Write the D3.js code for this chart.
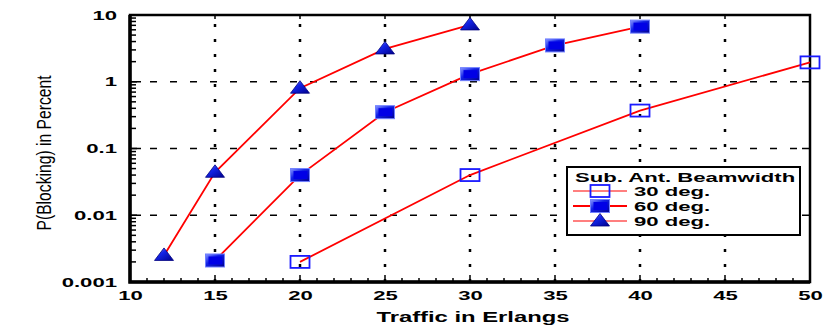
<!DOCTYPE html>
<html>
<head>
<meta charset="utf-8">
<script src="https://cdn.jsdelivr.net/npm/d3@7"></script>
<style>
body { margin: 0; background: #fff; }
svg { display: block; font-family: "Liberation Sans", Arial, sans-serif; }
</style>
</head>
<body>
<svg width="831" height="328"></svg>
<script>
var WIDTH = 831;
var HEIGHT = 328;

// traffic in Erlangs vs blocking probability (%)
var x90 = [12, 15, 20, 25, 30];
var y90 = [0.0025, 0.044, 0.8, 3.1, 7.1];
var x60 = [15, 20, 25, 30, 35, 40];
var y60 = [0.0021, 0.04, 0.35, 1.3, 3.5, 6.7];
var x30 = [20, 30, 40, 50];
var y30 = [0.002, 0.04, 0.37, 1.95];

var xTicks = [10, 15, 20, 25, 30, 35, 40, 45, 50];
var yTicks = [0.001, 0.01, 0.1, 1, 10];
var yTickLabels = ['0.001', '0.01', '0.1', '1', '10'];
var legendLabels = ['30 deg.', '60 deg.', '90 deg.'];

var pL = 130, pR = 810, pT = 15, pB = 282;
var STRETCH = 1.7;

var svg = d3.select('svg');

// the original picture is wide, so text is stretched sideways
var stretch = function(sel, k){
    sel.each(function(){
        var w = this.getComputedTextLength();
        d3.select(this).attr('textLength', w * k).attr('lengthAdjust', 'spacingAndGlyphs');
    });
};

var defs = svg.append('defs');
var grad = defs.append('linearGradient').attr('id', 'blueg')
    .attr('x1', 0).attr('y1', 0).attr('x2', 1).attr('y2', 1);
grad.append('stop').attr('offset', '0%').attr('stop-color', '#8a98ff');
grad.append('stop').attr('offset', '40%').attr('stop-color', '#1424e8');
grad.append('stop').attr('offset', '100%').attr('stop-color', '#00008c');

var xScale = d3.scaleLinear().domain([10, 50]).range([pL, pR]);
var yScale = d3.scaleLog().domain([0.001, 10]).range([pB, pT]);

// grid
var grid = svg.append('g');
grid.selectAll('line.v')
    .data(xTicks.slice(1, -1))
    .enter().append('line')
    .attr('x1', function(d){ return xScale(d); })
    .attr('x2', function(d){ return xScale(d); })
    .attr('y1', pT + 9).attr('y2', pB)
    .attr('stroke', '#000').attr('stroke-width', 2.5)
    .attr('stroke-dasharray', '3,12');
grid.selectAll('line.h')
    .data(yTicks.slice(1, -1))
    .enter().append('line')
    .attr('x1', pL).attr('x2', pR)
    .attr('y1', function(d){ return yScale(d); })
    .attr('y2', function(d){ return yScale(d); })
    .attr('stroke', '#000').attr('stroke-width', 1.5)
    .attr('stroke-dasharray', '7,13');

// minor ticks
var minorY = [];
for (var e = -3; e < 1; e++) {
    for (var m = 2; m < 10; m++) minorY.push(m * Math.pow(10, e));
}
var minorX = d3.range(10, 51);

var bottomAxis = d3.axisBottom(xScale).tickValues(xTicks).tickSize(0).tickPadding(9)
    .tickFormat(d3.format('d'));
svg.append('g')
    .attr('transform', 'translate(0,' + pB + ')')
    .call(bottomAxis)
    .call(function(g){ g.select('.domain').remove(); })
    .selectAll('text')
    .attr('font-size', 13).attr('font-weight', 'bold').attr('fill', '#000')
    .attr('font-family', '"Liberation Sans", Arial, sans-serif')
    .call(stretch, STRETCH);

var leftAxis = d3.axisLeft(yScale).tickValues(yTicks).tickSize(0).tickPadding(13)
    .tickFormat(function(d, i){ return yTickLabels[i]; });
svg.append('g')
    .attr('transform', 'translate(' + pL + ',0)')
    .call(leftAxis)
    .call(function(g){ g.select('.domain').remove(); })
    .selectAll('text')
    .attr('font-size', 13).attr('font-weight', 'bold').attr('fill', '#000')
    .attr('font-family', '"Liberation Sans", Arial, sans-serif')
    .call(stretch, STRETCH);

var ticks = svg.append('g').attr('stroke', '#000').attr('stroke-width', 1.5);
ticks.selectAll('line.xt')
    .data(minorX)
    .enter().append('line')
    .attr('x1', function(d){ return xScale(d); })
    .attr('x2', function(d){ return xScale(d); })
    .attr('y1', pB)
    .attr('y2', function(d){ return pB - (d % 5 === 0 ? 7 : 4); });
ticks.selectAll('line.xt2')
    .data(xTicks)
    .enter().append('line')
    .attr('x1', function(d){ return xScale(d); })
    .attr('x2', function(d){ return xScale(d); })
    .attr('y1', pT)
    .attr('y2', pT + 4);
ticks.selectAll('line.yt')
    .data(minorY)
    .enter().append('line')
    .attr('x1', pL).attr('x2', pL + 6)
    .attr('y1', function(d){ return yScale(d); })
    .attr('y2', function(d){ return yScale(d); });
ticks.selectAll('line.yt1')
    .data(yTicks)
    .enter().append('line')
    .attr('x1', pL).attr('x2', pL + 11)
    .attr('y1', function(d){ return yScale(d); })
    .attr('y2', function(d){ return yScale(d); });
ticks.selectAll('line.yt2')
    .data(yTicks)
    .enter().append('line')
    .attr('x1', pR).attr('x2', pR - 8)
    .attr('y1', function(d){ return yScale(d); })
    .attr('y2', function(d){ return yScale(d); });

// frame
svg.append('rect')
    .attr('x', pL).attr('y', pT)
    .attr('width', pR - pL).attr('height', pB - pT)
    .attr('fill', 'none').attr('stroke', '#000').attr('stroke-width', 2.5);
svg.append('path')
    .attr('d', 'M' + pL + ',' + pT + 'V' + pB + 'H' + pR)
    .attr('fill', 'none').attr('stroke', '#000').attr('stroke-width', 3.5);

// series
var line = d3.line()
    .x(function(d){ return xScale(d[0]); })
    .y(function(d){ return yScale(d[1]); });

var series = [
    { xs: x30, ys: y30, type: 'open' },
    { xs: x60, ys: y60, type: 'square' },
    { xs: x90, ys: y90, type: 'triangle' }
];

var drawMarker = function(g, type, cx, cy) {
    if (type === 'open') {
        g.append('rect').attr('x', cx - 9.5).attr('y', cy - 6)
            .attr('width', 19).attr('height', 12)
            .attr('fill', 'none').attr('stroke', '#1a1aff').attr('stroke-width', 1.8);
    } else if (type === 'square') {
        g.append('rect').attr('x', cx - 9.5).attr('y', cy - 6.5)
            .attr('width', 19).attr('height', 13)
            .attr('fill', 'url(#blueg)').attr('stroke', '#7080ff').attr('stroke-width', 1);
        g.append('rect').attr('x', cx - 6.5).attr('y', cy - 4)
            .attr('width', 14).attr('height', 8).attr('fill', '#0000e6');
    } else {
        g.append('path')
            .attr('d', 'M' + cx + ',' + (cy - 7.5) + 'L' + (cx + 9.5) + ',' + (cy + 5) +
                'L' + (cx - 9.5) + ',' + (cy + 5) + 'Z')
            .attr('fill', 'url(#blueg)').attr('stroke', '#000080').attr('stroke-width', 0.8);
    }
};

series.forEach(function(s){
    var pts = s.xs.map(function(x, i){ return [x, s.ys[i]]; });
    svg.append('path').datum(pts)
        .attr('d', line)
        .attr('fill', 'none').attr('stroke', '#ff0000').attr('stroke-width', 1.8);
    var g = svg.append('g');
    pts.forEach(function(p){
        drawMarker(g, s.type, xScale(p[0]), yScale(p[1]));
    });
});

// legend
var lg = svg.append('g');
lg.append('rect').attr('x', 567).attr('y', 167).attr('width', 233).attr('height', 68)
    .attr('fill', '#fff').attr('stroke', '#000').attr('stroke-width', 2);
lg.append('text').attr('x', 575).attr('y', 182)
    .attr('font-size', 13).attr('font-weight', 'bold')
    .text('Sub. Ant. Beamwidth')
    .call(stretch, STRETCH);
series.forEach(function(s, i){
    var yy = 191 + i * 15;
    lg.append('line').attr('x1', 573).attr('x2', 627)
        .attr('y1', yy).attr('y2', yy)
        .attr('stroke', '#ff0000').attr('stroke-width', i === 1 ? 2 : 1.2);
    drawMarker(lg, s.type, 600, yy);
    lg.append('text').attr('x', 634).attr('y', yy + 5)
        .attr('font-size', 13).attr('font-weight', 'bold')
        .text(legendLabels[i])
        .call(stretch, STRETCH);
});

// axis titles
svg.append('text')
    .attr('x', (pL + pR) / 2 + 3).attr('y', 322)
    .attr('text-anchor', 'middle')
    .attr('font-size', 14).attr('font-weight', 'bold')
    .text('Traffic in Erlangs')
    .call(stretch, STRETCH);
svg.append('text')
    .attr('transform', 'translate(51,153) rotate(-90) scale(1,1.35)')
    .attr('text-anchor', 'middle')
    .attr('font-size', 15)
    .attr('textLength', 155).attr('lengthAdjust', 'spacingAndGlyphs')
    .text('P(Blocking) in Percent');
</script>
</body>
</html>
